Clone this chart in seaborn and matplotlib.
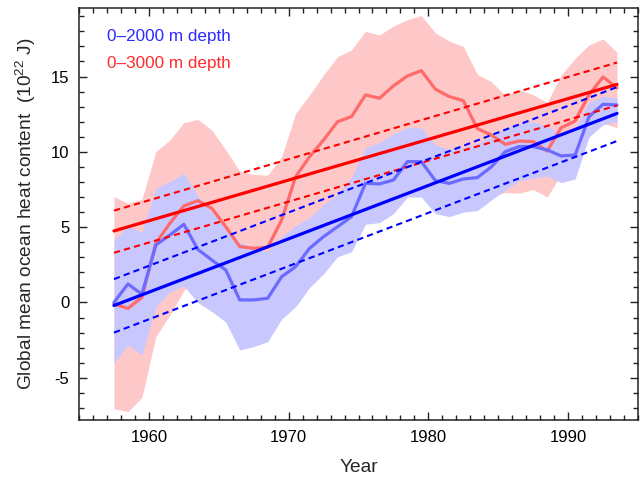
import numpy as np
import pandas as pd
import matplotlib.pyplot as plt
import seaborn as sns
from matplotlib.ticker import MultipleLocator

# --- DATA ---
years = np.arange(1957.5, 1994.0, 1.0)

ohc_2000 = [0.0, 1.23, 0.55, 3.82, 4.48, 5.19, 3.53, 2.82, 2.16, 0.17,
            0.17, 0.28, 1.71, 2.38, 3.6, 4.37, 5.03, 5.7, 7.91, 7.87,
            8.13, 9.35, 9.35, 8.09, 7.91, 8.2, 8.29, 9.0, 10.01, 10.35,
            10.35, 10.13, 9.73, 9.79, 12.34, 13.16, 13.11]
ohc_3000 = [-0.1, -0.39, 0.34, 3.93, 5.26, 6.41, 6.76, 6.25, 5.03, 3.71,
            3.6, 3.66, 5.48, 8.35, 9.68, 10.79, 12.0, 12.34, 13.78, 13.56,
            14.38, 15.04, 15.39, 14.16, 13.67, 13.4, 11.55, 11.12, 10.5, 10.72,
            10.68, 10.05, 11.6, 12.05, 13.8, 14.97, 14.25]

band_2000_lo = [-4.04, -2.82, -3.49, -0.3, 0.7, 1.1, 0.0, -0.6, -1.3, -3.15,
                -2.93, -2.6, -1.1, -0.28, 1.0, 1.9, 3.04, 3.37, 5.2, 5.3,
                5.9, 7.0, 7.0, 5.9, 5.7, 6.0, 6.1, 6.8, 7.47, 8.09,
                8.25, 8.4, 7.96, 8.2, 11.0, 11.8, 12.0]
band_2000_hi = [4.15, 5.1, 4.65, 7.58, 8.02, 8.58, 7.1, 6.0, 5.0, 4.0,
                3.6, 3.4, 4.4, 5.09, 5.65, 6.5, 7.2, 8.3, 10.3, 10.6,
                11.2, 11.6, 11.6, 10.46, 10.17, 10.3, 10.57, 11.0, 11.57, 11.9,
                12.0, 11.7, 11.2, 11.6, 13.3, 13.7, 13.6]
band_3000_lo = [-7.05, -7.25, -6.3, -2.25, -0.85, 0.8, 1.5, 1.5, 1.5, 1.0,
                0.5, 0.5, 1.0, 2.0, 3.0, 4.0, 5.0, 5.5, 6.5, 6.5,
                7.0, 8.0, 8.0, 7.0, 6.5, 6.5, 6.8, 7.0, 7.3, 7.25,
                7.5, 7.0, 8.5, 9.5, 11.2, 11.9, 11.6]
band_3000_hi = [7.03, 6.59, 6.85, 10.02, 10.79, 11.94, 12.16, 11.45, 10.13, 8.7,
                8.5, 8.45, 9.68, 12.56, 13.78, 15.11, 16.32, 16.77, 18.0, 17.76,
                18.35, 18.78, 19.05, 17.9, 17.35, 17.0, 15.15, 14.66, 13.72, 14.13,
                13.79, 13.27, 15.1, 16.2, 17.1, 17.5, 16.6]

# linear trends with their uncertainty bounds (start/end of the record)
fit_years = [1957.5, 1993.5]
fit_2000 = [-0.2, 12.55]
fit_2000_lo = [-2.0, 10.72]
fit_2000_hi = [1.55, 14.3]
fit_3000 = [4.75, 14.48]
fit_3000_lo = [3.3, 13.08]
fit_3000_hi = [6.1, 15.93]

BLUE = "#0000ff"
RED = "#ff0000"

sns.set_style("ticks")
plt.rcParams["font.family"] = ["Liberation Sans", "DejaVu Sans"]
plt.rcParams["mathtext.fontset"] = "custom"
plt.rcParams["mathtext.rm"] = "Liberation Sans"
plt.rcParams["axes.unicode_minus"] = False

fig = plt.figure(figsize=(6.43, 4.79), dpi=100)
ax = fig.add_axes([0.1229, 0.1232, 0.8693, 0.8601])

# uncertainty bands
ax.fill_between(years, band_3000_lo, band_3000_hi, color="#ffc8c8", lw=0, zorder=1)
ax.fill_between(years, band_2000_lo, band_2000_hi, color="#c8c8ff", lw=0, zorder=2)

# annual series
df = pd.DataFrame({"year": years, "d2000": ohc_2000, "d3000": ohc_3000})
sns.lineplot(data=df, x="year", y="d3000", color="#ff6b6b", lw=2.3, ax=ax, zorder=3)
sns.lineplot(data=df, x="year", y="d2000", color="#6b6bff", lw=2.3, ax=ax, zorder=3)

# trends
for vals, col in [(fit_3000, RED), (fit_2000, BLUE)]:
    ax.plot(fit_years, vals, color=col, lw=2.3, zorder=4)
for vals, col in [(fit_3000_lo, RED), (fit_3000_hi, RED),
                  (fit_2000_lo, BLUE), (fit_2000_hi, BLUE)]:
    ax.plot(fit_years, vals, color=col, lw=1.5, dashes=(3, 2), zorder=4)

ax.text(0.05, 0.93, "0\u20132000 m depth", color="#2a2aff", fontsize=12.3,
        transform=ax.transAxes, va="center", ha="left")
ax.text(0.05, 0.866, "0\u20133000 m depth", color="#ff2a2a", fontsize=12.3,
        transform=ax.transAxes, va="center", ha="left")

ax.set_xlim(1955, 1995)
ax.set_ylim(-7.8, 19.55)
ax.xaxis.set_major_locator(MultipleLocator(10))
ax.xaxis.set_minor_locator(MultipleLocator(1))
ax.yaxis.set_major_locator(MultipleLocator(5))
ax.yaxis.set_minor_locator(MultipleLocator(1))
ax.tick_params(which="both", direction="in", top=True, right=True,
               colors="#222222", labelcolor="black", labelsize=12, width=1.0)
ax.tick_params(which="major", length=6, pad=7)
ax.tick_params(which="minor", length=3.5)
for s in ax.spines.values():
    s.set_linewidth(1.1)
    s.set_color("#222222")

ax.set_xlabel("Year", fontsize=13.8, labelpad=10)
ax.set_ylabel("Global mean ocean heat content  (10$^{22}$ J)", fontsize=13.8, labelpad=9)

fig.savefig("out.png", dpi=100)
